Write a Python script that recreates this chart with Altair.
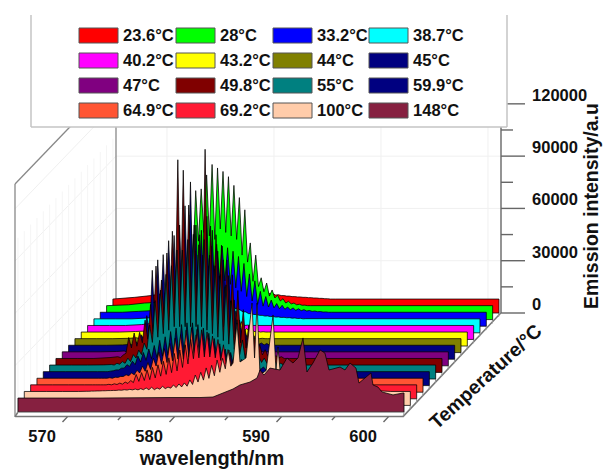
import altair as alt
import pandas as pd

TEMPS = ["23.6°C", "28°C", "33.2°C", "38.7°C", "40.2°C", "43.2°C", "44°C", "45°C",
         "47°C", "49.8°C", "55°C", "59.9°C", "64.9°C", "69.2°C", "100°C", "148°C"]
COLORS = ["#ff0000", "#00ff00", "#0000ff", "#00ffff", "#ff00ff", "#ffff00", "#808000", "#000080",
          "#800080", "#800000", "#008080", "#000080", "#ff5533", "#ff1a33", "#ffccaa", "#862040"]

# wavelength (nm) of the comb of emission lines
COMB = [570.73, 571.24, 571.75, 572.26, 572.77, 573.28, 573.79, 574.30, 574.81, 575.32, 575.83, 576.34,
        576.85, 577.36, 577.87, 578.38, 578.89, 579.40, 579.91, 580.42, 580.93, 581.44, 581.95, 582.46,
        582.97, 583.48, 583.99, 584.50, 585.01, 585.52, 586.03, 586.54, 587.05, 587.56, 588.07]
HALF_STEP = 0.255
TAIL_NM = [564.95, 567.0, 568.5, 570.0]
END_NM = 601.03

# intensities in thousands of counts; P = line tops, V = troughs after each line, T = left tail
T = [[8, 9, 10, 11.5], [8, 8.5, 9.5, 10], [8, 8, 8.5, 9], [8, 8, 8, 8.5], [8, 8, 8, 8.5], [8, 8, 8, 8.3],
     [8, 8, 8, 8.2], [8, 8, 8, 8.2], [8, 8, 8, 8.2], [8, 8, 8, 8.5], [8, 8, 8, 8.1], [8, 8, 8, 8],
     [8, 8, 8, 8], [8, 8, 8, 8], [8, 8, 8, 8]]
P = [
 [12, 13, 14, 16, 19, 24, 31, 36, 40, 40, 39, 36, 32, 28, 23, 18, 15, 12, 11, 10.5, 10, 9.7, 9.4, 9.2, 9, 8.8, 8.6, 8.4, 8.2, 8],
 [18, 25, 35, 40, 60, 74, 75, 83, 89, 87, 85, 82, 77, 70, 63, 44, 37, 24, 21, 17, 14, 12, 10.5, 9.5, 8.8, 8.3, 8],
 [10, 12, 14, 17, 22, 28, 35, 40, 44, 46, 47, 46, 45, 43, 40, 36, 30, 26, 20, 17, 15, 13, 12, 11, 10.5, 10, 9.5, 9, 8.7, 8.4, 8.2, 8],
 [9, 10, 12, 15, 18, 22, 26, 30, 34, 36, 36, 34, 32, 24, 17, 14, 12, 11, 10.5, 10, 9.6, 9.3, 9, 8.8, 8.6, 8.4, 8.2, 8],
 [9, 10, 12, 14, 17, 21, 25, 29, 32, 34, 34, 33, 31, 26, 20, 12, 9.5, 8.5, 8.2, 8],
 [8.5, 9, 10, 12, 15, 20, 26, 32, 38, 42, 45, 46, 46, 44, 40, 34, 26, 20, 14, 10, 9, 8.5, 8.2, 8],
 [8.5, 9, 10, 12, 16, 22, 30, 38, 44, 50, 54, 56, 56, 54, 50, 44, 36, 28, 20, 14, 10, 9, 8.5, 8.2, 8],
 [8.5, 10, 14, 25, 51, 57, 60, 68, 71, 77, 88, 101.7, 77, 74, 82, 74, 62, 57, 48, 34, 22.5, 16.8, 11, 9.8, 9.3, 9, 8.7, 8],
 [8.5, 9, 11, 14, 18, 24, 32, 40, 48, 55, 60, 64, 66, 66, 64, 60, 52, 44, 36, 28, 22, 16, 12, 10, 9, 8.5, 8],
 [9, 10, 20, 22.6, 23, 30, 39, 61, 53, 68.5, 81, 122, 116, 96, 84.5, 79, 128, 84, 79, 73, 64.5, 56, 47, 36, 27, 21, 16, 13, 10.5, 9.5, 9, 8],
 [8.3, 9, 10, 12, 14, 16.6, 20.6, 31, 45, 51, 60, 65, 74, 74, 80, 83, 77, 80, 71, 65, 60, 54, 45, 34, 22.4, 18, 15.5, 13, 12, 11, 9.8, 9, 8.5, 8.2, 8],
 [8, 8.3, 9, 10, 12, 14, 17, 19, 21, 23, 26, 28, 31, 33, 35, 36, 36, 35, 33, 30, 27, 24, 21, 19, 17, 15, 13.5, 12.5, 11.5, 10.7, 9.8, 9, 8.5, 8.2, 8],
 [8, 8, 8.3, 8.6, 9, 10, 11, 12.6, 15, 17, 19.5, 23, 25, 28, 31, 33, 35.6, 37, 36, 33, 31, 28.7, 26, 24, 22, 19.5, 17, 15, 14, 12.6, 11.5, 10.3, 9.5, 9, 8.5],
 [8, 8, 8, 8.3, 8.6, 9, 9.6, 10.5, 14, 15, 16.6, 18, 19.5, 21.5, 23.5, 26, 28, 31, 34, 36.7, 39.6, 38.4, 36, 34, 31, 28, 25, 21, 18, 15, 12.6, 11, 9.8, 9.2, 8.6],
 [8.1, 8.2, 8.3, 8.4, 8.5, 8.6, 8.8, 9, 9.2, 9.4, 9.6, 10, 10.4, 10, 11, 10.5, 11.7, 12.3, 12.9, 14.6, 17.4, 19, 21.5, 23, 26, 27, 32],
]
V = [
 [11, 12, 13, 14, 16, 19, 22, 25, 26, 26, 25, 23, 20, 17, 15, 13, 11.5, 10.8, 10.3, 10, 9.7, 9.4, 9.2, 9, 8.8, 8.6, 8.4, 8.2, 8, 8],
 [10, 14, 18, 25, 35, 45, 50, 48, 46, 52, 50, 48, 46, 37, 33, 22, 19, 16, 13.5, 12.4, 10.7, 9.5, 9, 8.5, 8.2, 8, 8],
 [9, 10, 11, 13, 15, 18, 22, 25, 26, 27, 27, 26, 24, 22, 20, 17, 14.5, 12.5, 11.5, 11, 10.5, 10, 9.7, 9.4, 9.1, 8.9, 8.7, 8.5, 8.3, 8.1, 8, 8],
 [8.5, 9, 10, 11, 13, 15, 17, 18, 19, 20, 20, 19, 18, 16, 14, 13, 12, 11, 10.5, 10, 9.7, 9.4, 9.1, 8.9, 8.7, 8.5, 8.3, 8.1],
 [8.2, 8.5, 9, 10, 11, 12.5, 14, 15, 16, 16, 16, 15.5, 15, 13, 10, 9, 8.3, 8, 8, 8],
 [8, 8, 8.5, 9, 10, 12, 14, 15, 17, 18, 18, 18, 17, 16, 15, 13, 11, 9.5, 8.8, 8.4, 8.2, 8, 8, 8],
 [8, 8, 8.5, 9.5, 11, 13, 15, 17, 19, 20, 21, 21, 20, 19, 18, 16, 14, 12, 10, 9, 8.4, 8, 8, 8, 8],
 [8, 8.5, 10, 13, 18, 22, 25, 28, 30, 32, 33, 33, 33, 32, 30, 28, 25, 22, 18, 15, 12, 10, 9, 8.5, 8.2, 8, 8, 8],
 [8, 8.5, 9, 11, 13, 16, 19, 22, 24, 26, 27, 27, 26, 25, 23, 21, 18, 15, 12, 10, 9, 8.5, 8.2, 8, 8, 8, 8],
 [8.5, 11, 14, 15, 17, 19, 22, 28, 30, 32, 34, 36, 36, 34, 32, 32, 32, 30, 28, 26, 23, 20, 17, 14, 12.5, 11, 10, 9.5, 9, 8.5, 8, 8],
 [8, 8.5, 9, 10, 12, 14, 17, 21, 24, 26, 28, 30, 30, 30, 30, 30, 30, 28, 26, 24, 22, 20, 17, 14, 12, 11, 10, 9.5, 9, 8.7, 8.4, 8.2, 8, 8, 8],
 [8, 8.5, 9, 10, 11, 12, 13.5, 14.5, 15.5, 16, 17, 17.5, 18, 18, 18, 18, 18, 18, 17, 16, 15, 14, 13, 12, 11, 10.5, 10, 9.5, 9.2, 9, 8.7, 8.4, 8.2, 8, 8],
 [8, 8, 8, 8.5, 9, 9.5, 10, 11, 12, 13, 15, 16, 17, 18, 19, 19, 20, 20, 19, 18, 17, 16, 15, 14, 13, 12, 11, 10.5, 10, 9.5, 9, 8.7, 8.4, 8.2, 8],
 [8, 8, 8, 8, 8.2, 8.4, 8.8, 9.3, 10, 10.5, 11, 12, 13, 14, 15, 16, 18, 20, 23, 23.5, 24, 24, 23.5, 22, 20, 18, 16, 14, 12, 10.5, 9.5, 9, 8.6, 8.3, 8],
 [8.1, 8.2, 8.3, 8.4, 8.5, 8.6, 8.7, 8.8, 8.9, 8.9, 9, 9, 9, 9.3, 9.6, 9.9, 10.2, 10.6, 11, 12, 13.4, 14.5, 15.5, 17, 19, 21, 22.5],
]
# the 100 °C spectrum continues with isolated lines
PEACH_NM = [584.46, 584.83, 585.11, 585.67, 586.23, 586.47, 586.70, 586.98, 587.55, 588.20, 588.47, 588.66,
            588.85, 590.24, 591.65, 593.50, 599.20]
PEACH_K = [24.3, 47.3, 24.9, 27.2, 58.7, 27.2, 58.7, 17.4, 20, 51.9, 20.3, 33.5, 20.3, 19, 13.4, 10, 8]
# the 148 °C spectrum, front of the stack
WINE_NM = [564.95, 572.62, 579.16, 581.96, 583.18, 585.05, 585.70, 586.64, 587.29, 587.57, 587.94, 588.50,
           589.44, 590.09, 590.65, 591.12, 591.59, 591.96, 592.52, 593.18, 593.64, 594.02, 595.05, 595.51,
           595.98, 596.54, 596.82, 597.38, 597.94, 598.13, 598.60, 598.97, 600.00, 600.93, 601.03]
WINE_K = [8, 8, 8.3, 8.3, 8.6, 13.2, 15.5, 17.2, 19.5, 24.1, 21.2, 25.2, 24.1, 31, 28.1, 31, 42.5, 23, 28.1,
          35.6, 33.8, 24.1, 25.8, 24.1, 28.1, 25.2, 16.6, 19.5, 22.4, 15.5, 14.3, 11.5, 9.8, 10.9, 10.9]

Y_TICKS = [0, 30, 60, 90, 120]
Y_LABELS = ["0", "30000", "60000", "90000", "120000"]
Y_MINOR = [15, 45, 75, 105]
X_TICKS = [570, 580, 590, 600]
X_MINOR = [575, 585, 595]

# oblique projection of (wavelength, stack position, intensity) on the plane
PX_NM, PX_K = 10.7, 1.743
DX, DY = 6.33 / PX_NM, 6.6 / PX_K
def PX(nm, i=15.0):
    return nm + (15 - i) * DX
def PY(k, i=0.0):
    return k - i * DY
# conversion of layout positions given in page pixels
def LX(p):
    return 570 + (p - 72) / PX_NM
def LY(p):
    return (313 - p) / PX_K

xs = alt.Scale(domain=[LX(8), LX(604)], nice=False, zero=False)
ys = alt.Scale(domain=[LY(470), LY(8)], nice=False, zero=False)
XE = alt.X("x:Q", scale=xs, axis=None)
YE = alt.Y("y:Q", scale=ys, axis=None)

def seg(rows, color, width):
    return [dict(x=a, y=b, x2=c, y2=d, c=color, w=width) for a, b, c, d in rows]

def rules(rows):
    return alt.Chart(pd.DataFrame(rows)).mark_rule().encode(
        x=XE, y=YE, x2="x2:Q", y2="y2:Q",
        color=alt.Color("c:N", scale=None, legend=None),
        strokeWidth=alt.StrokeWidth("w:Q", scale=None, legend=None))

def texts(rows, size, angle=0, weight="bold"):
    return alt.Chart(pd.DataFrame(rows)).mark_text(
        font="Liberation Sans", fontWeight=weight, fontSize=size, angle=angle,
        align="center", baseline="middle", color="#111111").encode(x=XE, y=YE, text="t:N")

layers = []

# walls and their faint grid
GRID = "#f0f0f0"
back = []
for nm in X_TICKS:
    back += seg([(PX(nm, 0), LY(127), PX(nm, 0), PY(0))], GRID, 1)
for k in Y_TICKS[1:]:
    back += seg([(LX(116), PY(k), LX(501), PY(k))], GRID, 1)
    back += seg([(LX(116), PY(k), LX(15), PY(k, 15.9))], GRID, 1)
for i in range(0, 16):
    back += seg([(PX(END_NM - 36.08, i), PY(100, i), PX(END_NM - 36.08, i), PY(0, i))], "#f5f5f5", 1)
walls = seg([(LX(15), LY(184), LX(116), LY(79)),
             (LX(15), LY(184), LX(15), LY(417)),
             (LX(116), LY(60), LX(116), LY(300))], "#888888", 1.3)
layers.append(rules(back + walls))

# stack floor at the right-hand side
floor = seg([(PX(601.35, 15.7), PY(0, 15.7), PX(601.2, 0), PY(0, 0))], "#777777", 1.5)
for i in range(16):
    floor += seg([(PX(END_NM, i), PY(0, i), PX(601.35, i + 0.6), PY(0, i + 0.6))], "#999999", 1)
layers.append(rules(floor))

# spectra, back to front
for i, col in enumerate(COLORS):
    if i == 15:
        nm, k = list(WINE_NM), list(WINE_K)
    else:
        nm, k = list(TAIL_NM), list(T[i])
        for c, p, v in zip(COMB, P[i], V[i]):
            nm += [c, c + HALF_STEP]
            k += [p, v]
        if i == 14:
            nm += PEACH_NM
            k += PEACH_K
        nm.append(END_NM)
        k.append(8)
    d = pd.DataFrame({"x": [PX(a, i) for a in nm], "y": [PY(b, i) for b in k], "y0": [PY(0, i)] * len(nm)})
    layers.append(alt.Chart(d).mark_area(color=col, stroke="#000000", strokeWidth=0.75, opacity=1).encode(
        x=XE, y=YE, y2="y0:Q"))

# axes in front
ax = seg([(PX(565.1, 15.7), PY(0, 15.7), PX(601.4, 15.7), PY(0, 15.7)),
          (PX(565.1, 15.7), PY(0, 15.7), PX(564.95, 15), PY(0, 15))], "#777777", 1.5)
ax += seg([(PX(564.95, 15.05), PY(0, 15.05), PX(END_NM, 15.05), PY(0, 15.05))], "#aaaaaa", 1)
for nm in X_TICKS:
    ax += seg([(PX(nm, 15.7), PY(0, 15.7), PX(nm, 16.5), PY(0, 16.5))], "#666666", 1.4)
for nm in X_MINOR:
    ax += seg([(PX(nm, 15.7), PY(0, 15.7), PX(nm, 16.2), PY(0, 16.2))], "#666666", 1.4)
ax += seg([(LX(501), PY(0), LX(501), PY(120))], "#666666", 1.4)
for k in Y_TICKS:
    ax += seg([(LX(501), PY(k), LX(525), PY(k))], "#666666", 1.4)
for k in Y_MINOR:
    ax += seg([(LX(501), PY(k), LX(513), PY(k))], "#666666", 1.4)
layers.append(rules(ax))

# legend panel
panel = pd.DataFrame([dict(x=LX(31), x2=LX(507), y=LY(10), y2=LY(127))])
layers.append(alt.Chart(panel).mark_rect(color="#ffffff").encode(x=XE, x2="x2:Q", y=YE, y2="y2:Q"))
layers.append(rules(seg([(LX(31), LY(15), LX(31), LY(127)),
                         (LX(31), LY(127), LX(507), LY(127)),
                         (LX(507), LY(15), LX(507), LY(127))], "#c4c4c4", 1.5)))

COL_X = [79, 176, 273, 369]
ROW_Y = [35.5, 60.5, 85.5, 110.5]
CHAR_W = {".": 4.6, "°": 6.6, "C": 11.9}
sw, lab = [], []
for n, (name, col) in enumerate(zip(TEMPS, COLORS)):
    cx, ry = COL_X[n % 4], ROW_Y[n // 4]
    sw.append(dict(x=LX(cx), x2=LX(cx + 39), y=LY(ry - 7.5), y2=LY(ry + 7.5), c=col))
    w = sum(CHAR_W.get(ch, 9.2) for ch in name)
    lab.append(dict(x=LX(cx + 44 + 0.5 * w), y=LY(ry), t=name))
layers.append(alt.Chart(pd.DataFrame(sw)).mark_rect(stroke="#555555", strokeWidth=1).encode(
    x=XE, x2="x2:Q", y=YE, y2="y2:Q", color=alt.Color("c:N", scale=None, legend=None)))
layers.append(texts(lab, 16.5))

# tick labels and axis titles
layers.append(texts([dict(x=PX(nm, 15.7) - 25.5 / PX_NM, y=LY(437), t=str(nm)) for nm in X_TICKS], 16.5))
layers.append(texts([dict(x=LX(532 + 4.6 * len(s)), y=PY(k) + 8 / PX_K, t=s) for k, s in zip(Y_TICKS, Y_LABELS)], 16.5))
layers.append(texts([dict(x=LX(212), y=LY(459), t="wavelength/nm")], 20))
layers.append(texts([dict(x=LX(592), y=LY(206), t="Emission intensity/a.u")], 19.5, angle=270))
layers.append(texts([dict(x=LX(486), y=LY(377), t="Temperature/°C")], 19.5, angle=317.5))

chart = alt.layer(*layers).properties(
    width=596, height=462, padding=0,
    autosize=alt.AutoSizeParams(type="none"), background="#ffffff"
).configure_view(strokeWidth=0)
chart.save("out.html", embed_options={"renderer": "svg", "actions": False})
